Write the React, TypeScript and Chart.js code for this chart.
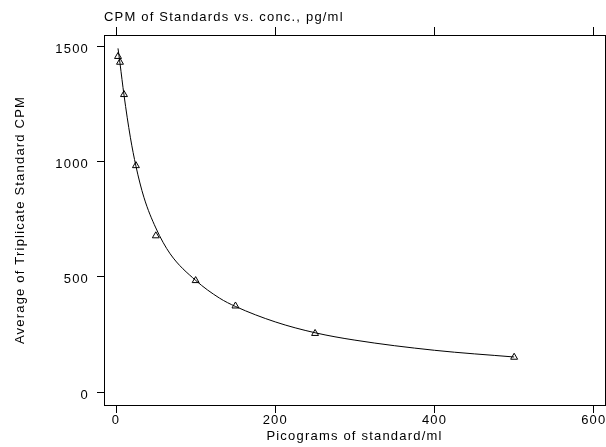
import React, { useEffect, useRef } from 'react';
import { Chart, registerables } from 'chart.js';

Chart.register(...registerables);

// Measured standards (triangles)
const standardConc = [2.5, 5, 10, 25, 50, 100, 150, 250, 500];
const avgCPM = [1455, 1430, 1290, 982, 678, 484, 374, 255, 152];

// Fitted curve
const curveConc = [2.5, 5, 10, 18, 25, 35, 50, 68, 100, 130, 150, 200, 250, 300, 400, 500];
const curveCPM = [1490, 1425, 1288, 1105, 980, 845, 712, 600, 485, 408, 372, 305, 258, 226, 182, 153];

const xTickValues = [0, 200, 400, 600];
const yTickValues = [0, 500, 1000, 1500];

const chartTitle = 'CPM of Standards vs. conc., pg/ml';
const xTitle = 'Picograms of standard/ml';
const yTitle = 'Average of Triplicate Standard CPM';

const W = 620;
const H = 447;
const FONT = { family: "'Liberation Sans', Arial, Helvetica, sans-serif", size: 13, lineHeight: 1.2 };
const X_MIN = -15.1;
const X_MAX = 614.1;
const Y_MIN = -55;
const Y_MAX = 1548;

export default function App() {
  const ref = useRef<HTMLCanvasElement>(null);

  useEffect(() => {
    const canvas = ref.current!;
    const spacing = {
      id: 'spacing',
      beforeUpdate(c: any) { c.ctx.letterSpacing = '1.2px'; },
      beforeDraw(c: any) { c.ctx.letterSpacing = '1.2px'; },
    };
    const setX = (s: any) => { s.ticks = xTickValues.map((v) => ({ value: v })); };
    const setY = (s: any) => { s.ticks = yTickValues.map((v) => ({ value: v })); };
    const plain = (v: any) => String(v);
    const grid = (len: number) => ({
      display: true,
      drawOnChartArea: false,
      drawTicks: true,
      tickLength: len,
      color: '#000',
      lineWidth: 1,
    });
    const border = { display: true, color: '#000', width: 1 };

    const chart = new Chart(canvas, {
      type: 'scatter',
      data: {
        datasets: [
          {
            type: 'line',
            data: curveConc.map((x, i) => ({ x, y: curveCPM[i] })),
            borderColor: '#000',
            borderWidth: 1,
            pointRadius: 0,
            cubicInterpolationMode: 'monotone',
            fill: false,
          } as any,
          {
            type: 'scatter',
            data: standardConc.map((x, i) => ({ x, y: avgCPM[i] })),
            pointStyle: 'triangle',
            pointRadius: 4,
            borderColor: '#000',
            backgroundColor: 'rgba(0,0,0,0)',
            borderWidth: 1,
          } as any,
        ],
      },
      options: {
        responsive: false,
        animation: false,
        devicePixelRatio: 1,
        layout: { padding: 0 },
        plugins: { legend: { display: false }, tooltip: { enabled: false } },
        scales: {
          x: {
            type: 'linear',
            position: 'bottom',
            min: X_MIN,
            max: X_MAX,
            afterBuildTicks: setX,
            afterFit: (s: any) => { s.height = H - 405; },
            grid: grid(8),
            border,
            ticks: { color: '#000', font: FONT, padding: 0, maxRotation: 0, autoSkip: false, callback: plain },
            title: { display: true, text: xTitle, color: '#000', font: FONT, padding: { top: 0, bottom: 3 } },
          },
          x2: {
            type: 'linear',
            axis: 'x',
            position: 'top',
            min: X_MIN,
            max: X_MAX,
            afterBuildTicks: setX,
            afterFit: (s: any) => { s.height = 35; },
            grid: grid(8),
            border,
            ticks: { display: false },
            title: { display: true, text: chartTitle, align: 'start', color: '#000', font: FONT, padding: { top: 10, bottom: 0 } },
          },
          y: {
            type: 'linear',
            position: 'left',
            min: Y_MIN,
            max: Y_MAX,
            afterBuildTicks: setY,
            afterFit: (s: any) => { s.width = 104; },
            grid: grid(7),
            border,
            ticks: { color: '#000', font: FONT, padding: 8, labelOffset: 3, autoSkip: false, callback: plain },
            title: { display: true, text: yTitle, color: '#000', font: FONT, padding: { top: 13, bottom: 0 } },
          },
          y2: {
            type: 'linear',
            axis: 'y',
            position: 'right',
            min: Y_MIN,
            max: Y_MAX,
            afterBuildTicks: setY,
            afterFit: (s: any) => { s.width = W - 605; },
            grid: grid(7),
            border,
            ticks: { display: false },
          },
        } as any,
      },
      plugins: [spacing],
    } as any);
    return () => chart.destroy();
  }, []);

  return (
    <div style={{ position: 'fixed', left: 0, top: 0, width: 606, height: 447, overflow: 'hidden', background: '#fff' }}>
      <canvas ref={ref} width={W} height={H} style={{ width: W, height: H, display: 'block' }} />
    </div>
  );
}
